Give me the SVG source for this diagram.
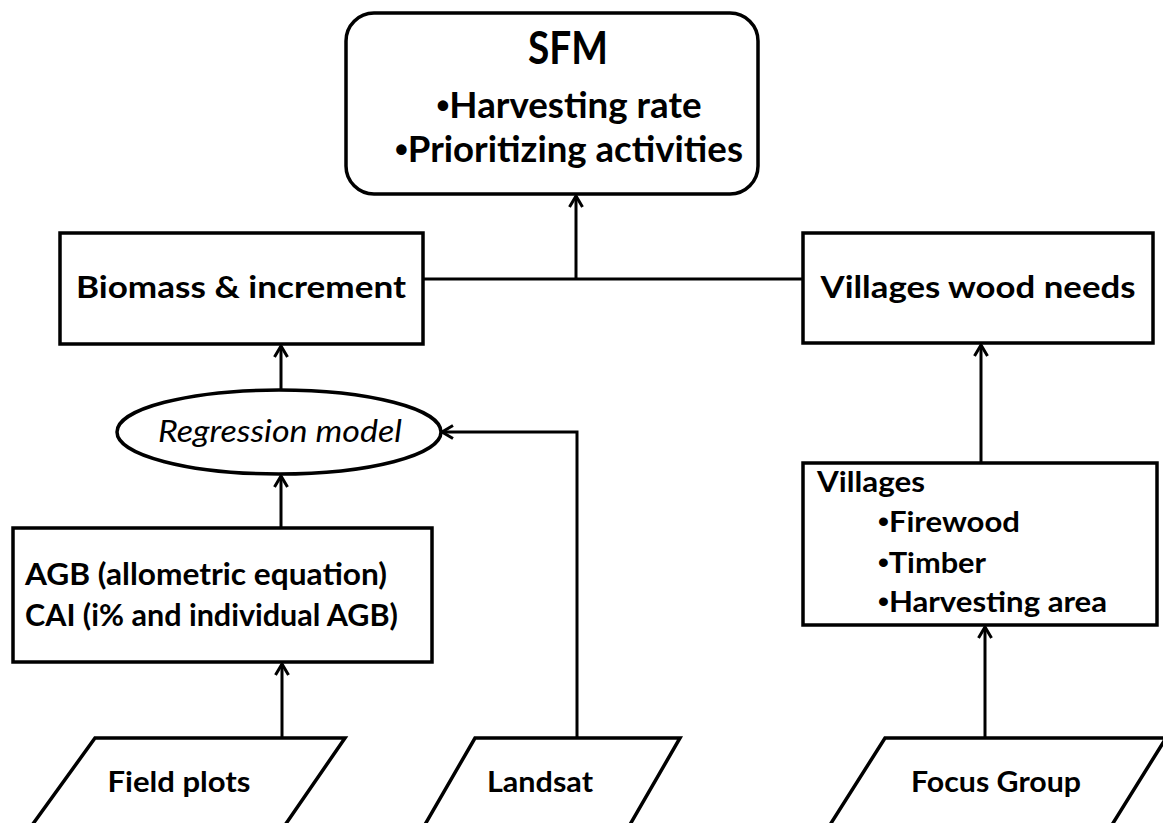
<svg xmlns="http://www.w3.org/2000/svg" width="1163" height="823" viewBox="0 0 1163 823">
<style>
.box{fill:#fff;stroke:#000;stroke-width:3.5}
.ln{fill:none;stroke:#000;stroke-width:3}
.t{font-family:Lato,"Liberation Sans",sans-serif;font-weight:700;fill:#000}
.i{font-family:Lato,"Liberation Sans",sans-serif;font-style:italic;font-weight:400;fill:#000}
.b{font-family:"Liberation Sans",sans-serif}
</style>
<defs>
<marker id="arr" markerUnits="userSpaceOnUse" markerWidth="16" markerHeight="16" viewBox="0 0 16 16" refX="13" refY="8" orient="auto">
<path d="M2,1.5 L13,8 L2,14.5" fill="none" stroke="#000" stroke-width="3"/>
</marker>
</defs>
<rect width="1163" height="823" fill="#fff"/>
<g id="connectors">
<path class="ln" d="M423,279 H803"/>
<path class="ln" d="M576,279 V196" marker-end="url(#arr)"/>
<path class="ln" d="M281,390 V346" marker-end="url(#arr)"/>
<path class="ln" d="M281,528 V476" marker-end="url(#arr)"/>
<path class="ln" d="M282,738 V664" marker-end="url(#arr)"/>
<path class="ln" d="M577,738 V432 H442" marker-end="url(#arr)"/>
<path class="ln" d="M981,463 V345" marker-end="url(#arr)"/>
<path class="ln" d="M985,738 V627" marker-end="url(#arr)"/>
</g>
<g id="sfm">
<rect class="box" x="346" y="13" width="412" height="181" rx="28"/>
<text class="t" x="568" y="64" font-size="46" text-anchor="middle" textLength="80" lengthAdjust="spacingAndGlyphs">SFM</text>
<text class="t" x="569" y="118" font-size="37" text-anchor="middle" textLength="265" lengthAdjust="spacingAndGlyphs"><tspan class="b">•</tspan>Harvesting rate</text>
<text class="t" x="569" y="162" font-size="37" text-anchor="middle" textLength="348" lengthAdjust="spacingAndGlyphs"><tspan class="b">•</tspan>Prioritizing activities</text>
</g>
<g id="biomass">
<rect class="box" x="60" y="233" width="363" height="111"/>
<text class="t" x="241" y="298" font-size="31" text-anchor="middle" textLength="330" lengthAdjust="spacingAndGlyphs">Biomass &amp; increment</text>
</g>
<g id="woodneeds">
<rect class="box" x="803" y="233" width="350" height="110"/>
<text class="t" x="978" y="298" font-size="31" text-anchor="middle" textLength="315" lengthAdjust="spacingAndGlyphs">Villages wood needs</text>
</g>
<g id="regression">
<ellipse class="box" cx="279" cy="432" rx="162" ry="42"/>
<text class="i" x="280" y="442" font-size="31" text-anchor="middle" textLength="244" lengthAdjust="spacingAndGlyphs">Regression model</text>
</g>
<g id="agb">
<rect class="box" x="13" y="528" width="419" height="134"/>
<text class="t" x="25" y="585" font-size="31" textLength="362" lengthAdjust="spacingAndGlyphs">AGB (allometric equation)</text>
<text class="t" x="25" y="626" font-size="31" textLength="373" lengthAdjust="spacingAndGlyphs">CAI (i% and individual AGB)</text>
</g>
<g id="villages">
<rect class="box" x="803" y="463" width="354" height="162"/>
<text class="t" x="817" y="492" font-size="29" textLength="108" lengthAdjust="spacingAndGlyphs">Villages</text>
<text class="t" x="878" y="532" font-size="29" textLength="142" lengthAdjust="spacingAndGlyphs"><tspan class="b">•</tspan>Firewood</text>
<text class="t" x="878" y="573" font-size="29" textLength="108" lengthAdjust="spacingAndGlyphs"><tspan class="b">•</tspan>Timber</text>
<text class="t" x="878" y="612" font-size="29" textLength="229" lengthAdjust="spacingAndGlyphs"><tspan class="b">•</tspan>Harvesting area</text>
</g>
<g id="fieldplots">
<polygon class="box" points="95,738 345,738 283,828 30,828"/>
<text class="t" x="179" y="792" font-size="29" text-anchor="middle" textLength="143" lengthAdjust="spacingAndGlyphs">Field plots</text>
</g>
<g id="landsat">
<polygon class="box" points="475,738 680,738 628,828 423,828"/>
<text class="t" x="540" y="792" font-size="29" text-anchor="middle" textLength="106" lengthAdjust="spacingAndGlyphs">Landsat</text>
</g>
<g id="focusgroup">
<polygon class="box" points="885,738 1166,738 1110,828 828,828"/>
<text class="t" x="996" y="792" font-size="29" text-anchor="middle" textLength="170" lengthAdjust="spacingAndGlyphs">Focus Group</text>
</g>
</svg>
